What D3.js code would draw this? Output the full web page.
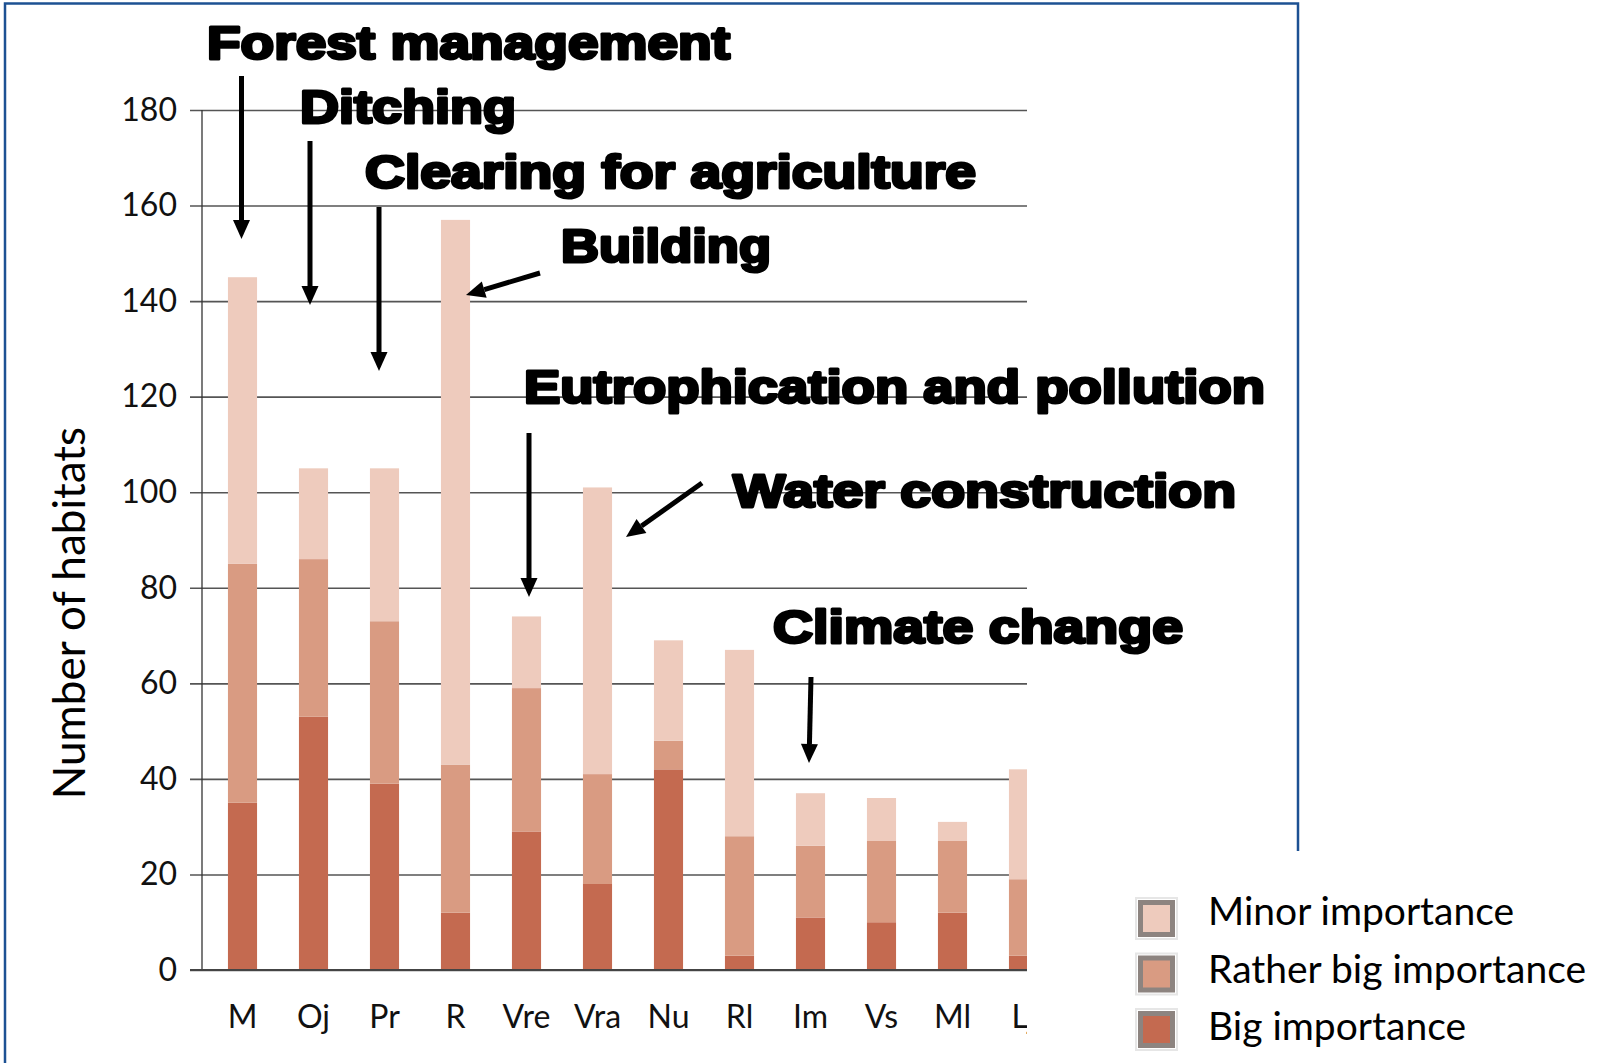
<!DOCTYPE html>
<html>
<head>
<meta charset="utf-8">
<script src="https://cdn.jsdelivr.net/npm/d3@7"></script>
<style>
  html, body { margin: 0; padding: 0; background: #fff; }
  svg { display: block; }
</style>
</head>
<body>
<svg id="chart" width="1597" height="1063"></svg>
<script>
// habitat types along the x axis
const categories = ["M", "Oj", "Pr", "R", "Vre", "Vra", "Nu", "Rl", "Im", "Vs", "Ml", "Lj"];

// number of habitats per importance class (stacked bottom -> top)
const bigImportance = [35, 53, 39, 12, 29, 18, 42, 3, 11, 10, 12, 3];
const ratherBigImportance = [50, 33, 34, 31, 30, 23, 6, 25, 15, 17, 15, 16];
const minorImportance = [60, 19, 32, 114, 15, 60, 21, 39, 11, 9, 4, 23];

const yTicks = [0, 20, 40, 60, 80, 100, 120, 140, 160, 180];

const seriesKeys = ["big", "rather", "minor"];
const seriesNames = {
  minor: "Minor importance",
  rather: "Rather big importance",
  big: "Big importance"
};
const colors = { big: "#c46a50", rather: "#d99b82", minor: "#eecbbd" };

// threats written over the chart, with their arrows
const annotations = [
  { text: "Forest management", x: 207, y: 59, w: 523, arrow: [241.5, 76, 241.5, 239] },
  { text: "Ditching", x: 300, y: 123, w: 216, arrow: [310, 141, 310, 305] },
  { text: "Clearing for agriculture", x: 365, y: 188, w: 611, arrow: [379, 207, 379, 371] },
  { text: "Building", x: 561, y: 262, w: 210, arrow: [540, 273, 466, 295] },
  { text: "Eutrophication and pollution", x: 524, y: 403, w: 741, arrow: [529, 433, 529, 597] },
  { text: "Water construction", x: 733, y: 507, w: 503, arrow: [702, 483, 626, 537] },
  { text: "Climate change", x: 773, y: 643, w: 410, arrow: [811, 677, 809, 763] }
];

const rows = categories.map((c, i) => ({
  cat: c,
  big: bigImportance[i],
  rather: ratherBigImportance[i],
  minor: minorImportance[i]
}));

const svg = d3.select("#chart");
const font = "Lato, 'Open Sans', sans-serif";

// plot area
const axisX = 202, plotRight = 1027;
const x = d3.scaleBand()
  .domain(categories)
  .range([207, 207 + 71 * 12])
  .paddingInner(0.59)
  .paddingOuter(0.295);
const y = d3.scaleLinear().domain([0, 180]).range([970, 110]);

// blue frame (open at the bottom right)
svg.append("path")
  .attr("d", "M5,1063 L5,3.5 L1298,3.5 L1298,851")
  .attr("fill", "none").attr("stroke", "#1d5193").attr("stroke-width", 2.5);

// grid lines + y ticks
const ya = svg.append("g")
  .attr("transform", `translate(190,0)`)
  .call(d3.axisLeft(y).tickValues(yTicks).tickSize(-(plotRight - 190)).tickPadding(13).tickFormat(d3.format("d")))
  .call(g => g.select(".domain").remove());
ya.selectAll(".tick line").attr("stroke", "#555").attr("stroke-width", 1.6);
ya.selectAll(".tick text")
  .attr("fill", "#111")
  .style("font-family", font)
  .style("font-size", "32px");

// y axis line
svg.append("line")
  .attr("x1", axisX).attr("x2", axisX)
  .attr("y1", y(180)).attr("y2", y(0))
  .attr("stroke", "#333").attr("stroke-width", 1.3);

// everything to the right of the plot edge is cut off
svg.append("clipPath").attr("id", "plotclip")
  .append("rect").attr("x", axisX).attr("y", 0).attr("width", plotRight - axisX).attr("height", y(0));
svg.append("clipPath").attr("id", "labelclip")
  .append("rect").attr("x", 0).attr("y", 0).attr("width", plotRight).attr("height", 1063);

// stacked bars
const stacked = d3.stack().keys(seriesKeys)(rows);
svg.append("g").attr("clip-path", "url(#plotclip)")
  .selectAll("g")
  .data(stacked)
  .join("g")
  .attr("fill", d => colors[d.key])
  .selectAll("rect")
  .data(d => d)
  .join("rect")
  .attr("x", d => x(d.data.cat))
  .attr("width", x.bandwidth())
  .attr("y", d => y(d[1]))
  .attr("height", d => y(d[0]) - y(d[1]));

// baseline
svg.append("line")
  .attr("x1", 190).attr("x2", plotRight)
  .attr("y1", y(0)).attr("y2", y(0))
  .attr("stroke", "#444").attr("stroke-width", 2);

// x labels
svg.append("g")
  .attr("clip-path", "url(#labelclip)")
  .selectAll("text")
  .data(categories)
  .join("text")
  .attr("x", d => x(d) + x.bandwidth() / 2)
  .attr("y", 1028)
  .attr("text-anchor", "middle")
  .style("font-family", font)
  .style("font-size", "32px")
  .attr("fill", "#111")
  .text(d => d);

// y axis title
svg.append("text")
  .attr("transform", "translate(85,613) rotate(-90)")
  .attr("text-anchor", "middle")
  .style("font-family", font)
  .style("font-size", "44px")
  .attr("fill", "#000")
  .text("Number of habitats");

// legend
const legendKeys = ["minor", "rather", "big"];
const legend = svg.append("g");
legendKeys.forEach((k, i) => {
  const top = 900 + i * 55.5;
  legend.append("rect")
    .attr("x", 1136).attr("y", top - 2)
    .attr("width", 41).attr("height", 41)
    .attr("fill", "none").attr("stroke", "#e6e6e6").attr("stroke-width", 2);
  legend.append("rect")
    .attr("x", 1140.5).attr("y", top + 2.5)
    .attr("width", 32).attr("height", 32)
    .attr("fill", colors[k]).attr("stroke", "#8d8480").attr("stroke-width", 5);
  legend.append("text")
    .attr("x", 1208).attr("y", 925 + i * 57.5)
    .style("font-family", font)
    .style("font-size", "39px")
    .attr("fill", "#000")
    .text(seriesNames[k]);
});

// annotations (heavy black type, arrows)
const ann = svg.append("g");
annotations.forEach(a => {
  ann.append("text")
    .attr("x", a.x).attr("y", a.y)
    .attr("textLength", a.w)
    .attr("lengthAdjust", "spacingAndGlyphs")
    .style("font-family", "'Liberation Sans', Arial, sans-serif")
    .style("font-weight", 700)
    .style("font-size", "47px")
    .style("font-variant-ligatures", "none")
    .attr("fill", "#000")
    .attr("stroke", "#000")
    .attr("stroke-width", 3)
    .attr("stroke-linejoin", "round")
    .text(a.text);

  const [x1, y1, x2, y2] = a.arrow;
  const ang = Math.atan2(y2 - y1, x2 - x1);
  const headL = 19, headW = 8.5;
  const bx = x2 - headL * Math.cos(ang), by = y2 - headL * Math.sin(ang);
  ann.append("line")
    .attr("x1", x1).attr("y1", y1).attr("x2", bx).attr("y2", by)
    .attr("stroke", "#000").attr("stroke-width", 5);
  const px = -Math.sin(ang), py = Math.cos(ang);
  ann.append("polygon")
    .attr("points", [
      [x2, y2],
      [bx + px * headW, by + py * headW],
      [bx - px * headW, by - py * headW]
    ].map(p => p.join(",")).join(" "))
    .attr("fill", "#000");
});
</script>
</body>
</html>
